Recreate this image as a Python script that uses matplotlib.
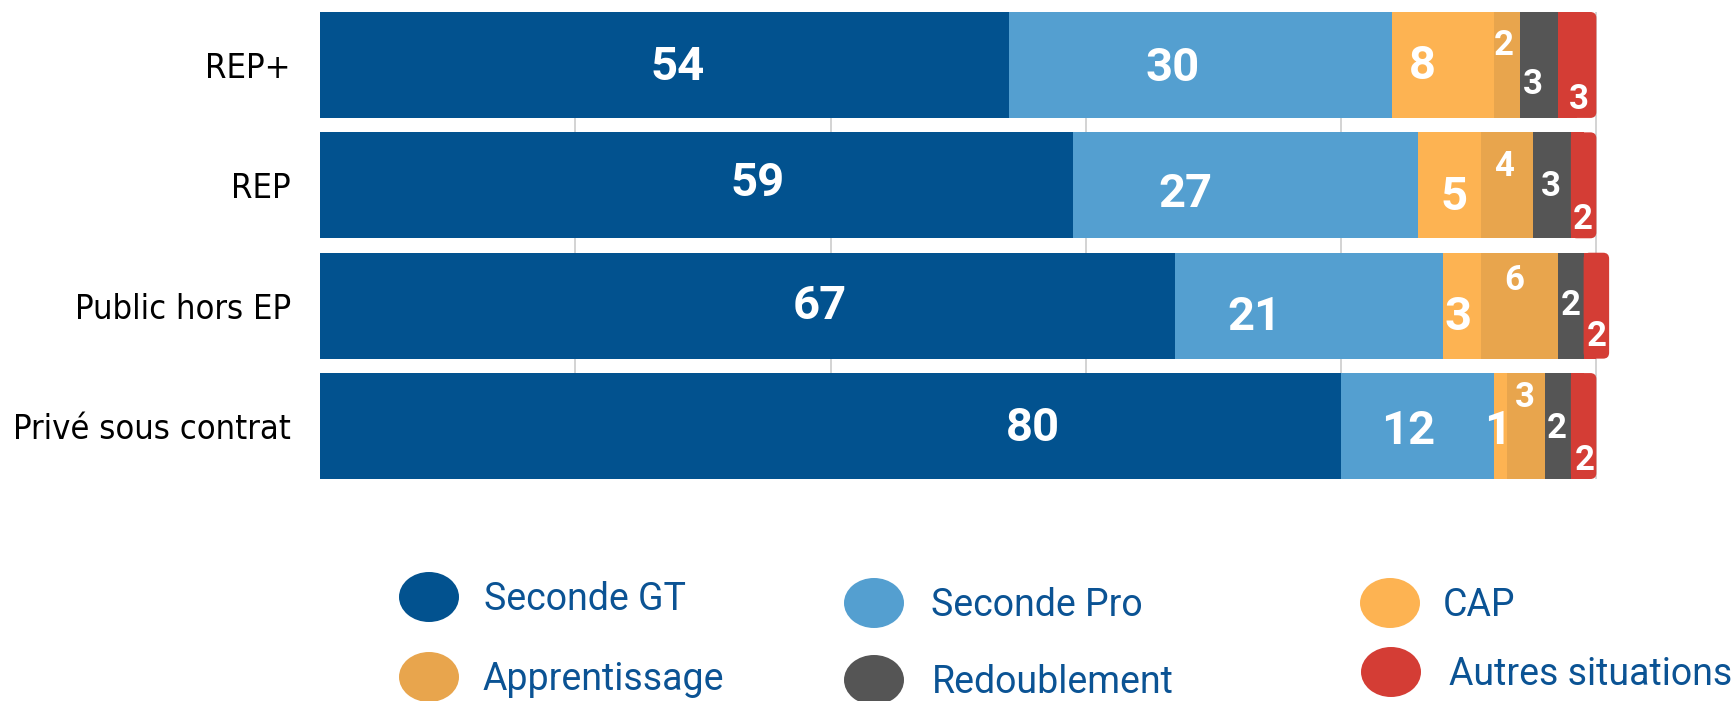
import matplotlib
matplotlib.use("Agg")
import matplotlib.pyplot as plt
from matplotlib import font_manager
from matplotlib.patches import Ellipse, FancyBboxPatch

# data
CATEGORIES    = ['REP+', 'REP', 'Public hors EP', 'Privé sous contrat']
SERIES        = ['Seconde GT', 'Seconde Pro', 'CAP',
                 'Apprentissage', 'Redoublement', 'Autres situations']
SECONDE_GT    = [54, 59, 67, 80]
SECONDE_PRO   = [30, 27, 21, 12]
CAP           = [8, 5, 3, 1]
APPRENTISSAGE = [2, 4, 6, 3]
REDOUBLEMENT  = [3, 3, 2, 2]
AUTRES        = [3, 2, 2, 2]
GRID_TICKS    = [20, 40, 60, 80, 100]

VALUES = [SECONDE_GT, SECONDE_PRO, CAP, APPRENTISSAGE, REDOUBLEMENT, AUTRES]

COLORS = ['#02528f', '#549fd0', '#fdb352', '#e8a54d', '#555555', '#d43d35']
TEXT_BLUE = '#0b5394'

# label nudges in pixels (right, down), per category then series
LABEL_DX = [[13, -28, -21, -3, -6, 2],
            [61, -60, 4, -3, -1, -1],
            [72, -55, -4, -6, 0, 0],
            [202, -10, -3, -1, -1, 1]]
LABEL_DY = [[-2, -1, -3, -22, 17, 32],
            [-6, 5, 8, -22, -2, 31],
            [-3, 8, 8, -28, -3, 28],
            [-2, 1, 1, -31, 0, 32]]

# legend layout in pixels: (circle x, circle y, text x)
LEGEND_POS = [(429, 597, 484), (874, 603, 931), (1390, 603, 1443),
              (429, 677, 483), (874, 680, 932), (1391, 672, 1449)]

W, H = 1734, 701
BAR_H = 0.88
NUM_FONT = ['Roboto', 'DejaVu Sans']


def pick_condensed():
    fonts = font_manager.fontManager.ttflist
    for stretch in ('extra-condensed', 'condensed'):
        for fam in ('Noto Sans', 'DejaVu Sans', 'Open Sans', 'Roboto'):
            if any(f.name == fam and str(f.stretch) == stretch for f in fonts):
                return dict(family=fam, stretch=stretch)
    for fam in ('Liberation Sans Narrow', 'Roboto Condensed'):
        if any(f.name == fam for f in fonts):
            return dict(family=fam)
    return dict(family='Roboto')


fig = plt.figure(figsize=(W / 100, H / 100), dpi=100)
fig.patch.set_facecolor('white')

left_px, right_px, top_px, bot_px = 320, 1724, 12, 479
ax = fig.add_axes([left_px / W, 1 - bot_px / H,
                   (right_px - left_px) / W, (bot_px - top_px) / H])
ax.set_xlim(0, 110)
ax.set_ylim(len(CATEGORIES) - 1 + BAR_H / 2, -BAR_H / 2)
for s in ax.spines.values():
    s.set_visible(False)

for g in GRID_TICKS:
    ax.axvline(g, color='#cccccc', lw=1.2, zorder=0)

px_per_x = (right_px - left_px) / 110
px_per_y = (bot_px - top_px) / (len(CATEGORIES) - 1 + BAR_H)
rad = 6 / px_per_x

rows = range(len(CATEGORIES))
lefts = [0] * len(CATEGORIES)
for i, vals in enumerate(VALUES):
    last = i == len(VALUES) - 1
    for j in rows:
        v = vals[j]
        if last:
            ax.add_patch(FancyBboxPatch(
                (lefts[j], j - BAR_H / 2), v, BAR_H,
                boxstyle=f"round,pad=0,rounding_size={rad}",
                mutation_aspect=px_per_x / px_per_y,
                fc=COLORS[i], ec='none', zorder=2))
            ax.barh(j, v / 2, left=lefts[j], height=BAR_H,
                    color=COLORS[i], zorder=2)
        else:
            ax.barh(j, v, left=lefts[j], height=BAR_H,
                    color=COLORS[i], zorder=2)

        size = 34 if i < 3 else 25
        half_cap = 0.355 * size * 100 / 72
        dx = LABEL_DX[j][i]
        dy = LABEL_DY[j][i] + half_cap
        ax.annotate(str(v), xy=(lefts[j] + v / 2, j),
                    xytext=(dx * 0.72, -dy * 0.72), textcoords='offset points',
                    ha='center', va='baseline', color='white',
                    fontsize=size, fontweight='bold', family=NUM_FONT, zorder=5)
        lefts[j] += v

ax.set_xticks([])
ax.set_yticks(list(rows))
ax.set_yticklabels(CATEGORIES)
ax.tick_params(axis='y', length=0, pad=21)

# fit the condensed category labels to the reference width
cond = pick_condensed()
renderer = fig.canvas.get_renderer()
probe = fig.text(0, 0, 'Privé sous contrat', fontsize=30, **cond)
wpx = probe.get_window_extent(renderer).width
probe.remove()
cat_size = min(33, 30 * 278 / wpx)
for t in ax.get_yticklabels():
    t.set_fontsize(cat_size)
    t.set_fontfamily(cond['family'])
    if 'stretch' in cond:
        t.set_fontstretch(cond['stretch'])
    t.set_color('black')

# legend drawn in pixel space
lay = fig.add_axes([0, 0, 1, 1], zorder=10)
lay.set_xlim(0, W)
lay.set_ylim(H, 0)
lay.axis('off')
leg_size = 27
leg_half = 0.355 * leg_size * 100 / 72
for name, col, (cx, cy, tx) in zip(SERIES, COLORS, LEGEND_POS):
    lay.add_patch(Ellipse((cx, cy), 60, 50, fc=col, ec='none'))
    lay.text(tx, cy + leg_half, name, fontsize=leg_size, color=TEXT_BLUE,
             ha='left', va='baseline', family=NUM_FONT)

fig.savefig('out.png', dpi=100, facecolor='white')
